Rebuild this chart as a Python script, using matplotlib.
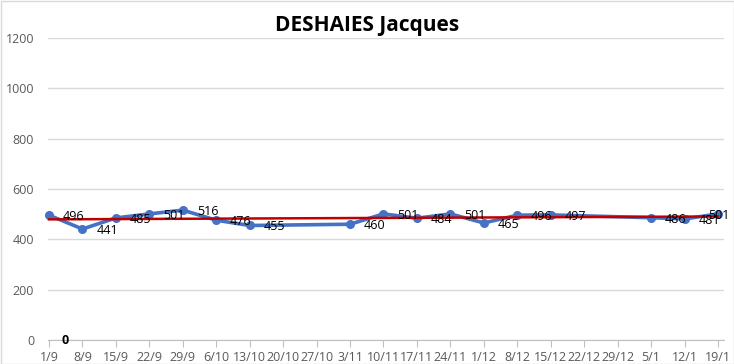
import numpy as np
import matplotlib
matplotlib.use("Agg")
import matplotlib.pyplot as plt
from matplotlib.patches import Rectangle

plt.rcParams['font.family'] = ['Open Sans', 'DejaVu Sans']

categories = ["1/9", "8/9", "15/9", "22/9", "29/9", "6/10", "13/10", "20/10", "27/10",
              "3/11", "10/11", "17/11", "24/11", "1/12", "8/12", "15/12", "22/12",
              "29/12", "5/1", "12/1", "19/1"]
values = [496, 441, 485, 501, 516, 476, 455, None, None, 460, 501, 484, 501, 465,
          496, 497, None, None, 486, 481, 501]
title = "DESHAIES Jacques"
yticks = [0, 200, 400, 600, 800, 1000, 1200]

fig = plt.figure(figsize=(7.34, 3.64), dpi=100)
fig.patches.append(Rectangle((0.5/734, 0.5/364), 1 - 1/734, 1 - 1/364, transform=fig.transFigure,
                             fill=False, edgecolor="#d9d9d9", linewidth=1))
ax = fig.add_axes([48/734, 1 - 340/364, 676/734, 302/364])

x = np.array([i for i, v in enumerate(values) if v is not None], dtype=float)
y = np.array([v for v in values if v is not None], dtype=float)

ax.plot(x, y, color="#4472C4", linewidth=2.6, marker="o", markersize=5.5,
        clip_on=False, zorder=3, solid_joinstyle="round")

# linear trendline
coef = np.polyfit(x, y, 1)
xt = np.array([0, len(categories) - 1], dtype=float)
ax.plot(xt, np.polyval(coef, xt), color="#C00000", linewidth=1.8, zorder=4, clip_on=False)

n = len(x)
for k, (xi, yi) in enumerate(zip(x, y)):
    if k == n - 1:
        ax.annotate(f"{int(yi)}", (xi, yi), xytext=(8.5, -1), textcoords="offset points",
                    ha="right", va="center", fontsize=9, color="#000000", zorder=5)
    else:
        ax.annotate(f"{int(yi)}", (xi, yi), xytext=(10, -1), textcoords="offset points",
                    ha="left", va="center", fontsize=9, color="#000000", zorder=5)

ax.text(0.48, 0, "0", fontsize=9, fontweight="bold", ha="center", va="center", color="#000000")

ax.set_xlim(-0.03, 20.18)
ax.set_ylim(0, 1200)
ax.set_yticks(yticks)
ax.set_xticks(range(len(categories)))
ax.set_xticklabels(categories)
ax.grid(axis="y", color="#d9d9d9", linewidth=1)
ax.set_axisbelow(True)
for s in ["top", "right", "left"]:
    ax.spines[s].set_visible(False)
ax.spines["bottom"].set_color("#bfbfbf")
ax.tick_params(axis="y", length=0, pad=10, labelsize=9, labelcolor="#595959")
ax.tick_params(axis="x", length=5, color="#bfbfbf", pad=3, labelsize=9, labelcolor="#595959")

fig.text(367/734, 1 - 26/364, title, ha="center", va="center", fontsize=15, fontweight="bold",
         color="#000000")

fig.savefig("out.png", dpi=100)
